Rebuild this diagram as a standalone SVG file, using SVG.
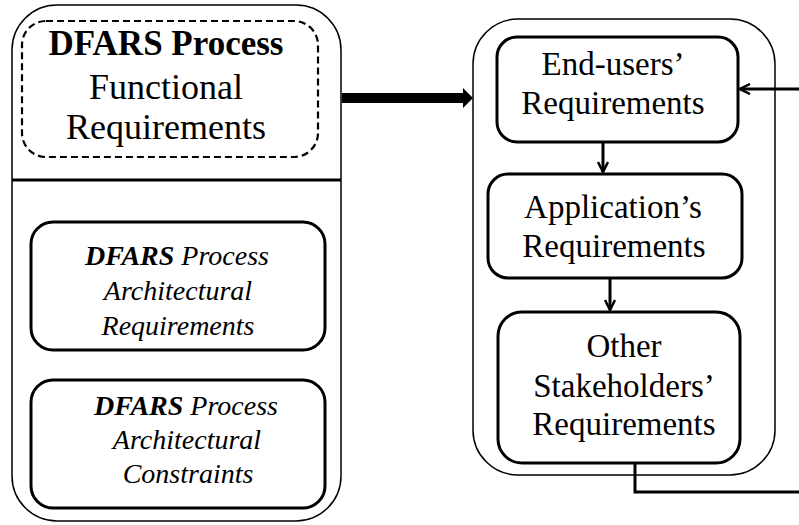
<svg xmlns="http://www.w3.org/2000/svg" width="799" height="525" viewBox="0 0 799 525">
  <style>
    .outer { fill: #fff; stroke: #000; stroke-width: 1.5; }
    .box { fill: #fff; stroke: #000; stroke-width: 3; }
    .dash { fill: none; stroke: #000; stroke-width: 2.2; stroke-dasharray: 7 4; }
    .wire { fill: none; stroke: #000; stroke-width: 3; }
    text { font-family: 'Liberation Serif', 'Times New Roman', serif; fill: #000; text-anchor: middle; }
    .big { font-size: 36px; }
    .head { font-size: 35px; font-weight: bold; }
    .mid { font-size: 33px; }
    .ital { font-size: 28px; font-style: italic; }
  </style>
  <defs>
    <marker id="open" viewBox="0 0 12 12" refX="11" refY="6" markerWidth="12" markerHeight="12" markerUnits="userSpaceOnUse" orient="auto">
      <path d="M1,1 L11,6 L1,11" fill="none" stroke="#000" stroke-width="2.5"/>
    </marker>
  </defs>
  <rect width="799" height="525" fill="#fff"/>

  <!-- left: DFARS process requirements -->
  <g id="dfars-process">
    <rect class="outer" x="12" y="5" width="329" height="516" rx="45" ry="45"/>
    <line x1="12" y1="180" x2="341" y2="180" stroke="#000" stroke-width="3"/>
  </g>
  <g id="functional-req">
    <rect class="dash" x="22" y="21" width="296" height="136" rx="24" ry="24"/>
    <text class="head" x="166" y="55">DFARS Process</text>
    <text class="big" x="166" y="99">Functional</text>
    <text class="big" x="166" y="139">Requirements</text>
  </g>
  <g id="arch-req">
    <rect class="box" x="31" y="222" width="294" height="128" rx="22" ry="22"/>
    <text class="ital" x="177" y="265"><tspan font-weight="bold">DFARS</tspan> Process</text>
    <text class="ital" x="178" y="300">Architectural</text>
    <text class="ital" x="178" y="335">Requirements</text>
  </g>
  <g id="arch-constraints">
    <rect class="box" x="31" y="380" width="294" height="128" rx="22" ry="22"/>
    <text class="ital" x="186" y="415"><tspan font-weight="bold">DFARS</tspan> Process</text>
    <text class="ital" x="187" y="449">Architectural</text>
    <text class="ital" x="188" y="483">Constraints</text>
  </g>

  <!-- right: stakeholder requirements -->
  <g id="stakeholders">
    <rect class="outer" x="473" y="19" width="302" height="456" rx="45" ry="45"/>
  </g>
  <g id="end-users">
    <rect class="box" x="497" y="37" width="241" height="105" rx="20" ry="20"/>
    <text class="mid" x="613" y="75">End-users’</text>
    <text class="mid" x="613" y="114">Requirements</text>
  </g>
  <g id="application">
    <rect class="box" x="488" y="174" width="254" height="104" rx="20" ry="20"/>
    <text class="mid" x="613" y="218">Application’s</text>
    <text class="mid" x="614" y="257">Requirements</text>
  </g>
  <g id="other-stakeholders">
    <rect class="box" x="498" y="312" width="242" height="151" rx="24" ry="24"/>
    <text class="mid" x="624" y="357">Other</text>
    <text class="mid" x="624" y="397">Stakeholders’</text>
    <text class="mid" x="624" y="435">Requirements</text>
  </g>

  <!-- connectors -->
  <g id="connectors">
    <path d="M342,93 L463,93 L463,88 L473,98 L463,108 L463,103 L342,103 Z" fill="#000"/>
    <line class="wire" x1="603" y1="142" x2="603" y2="172" marker-end="url(#open)"/>
    <line class="wire" x1="610" y1="278" x2="610" y2="310" marker-end="url(#open)"/>
    <path class="wire" d="M635,463 L635,492 L799,492"/>
    <line class="wire" x1="799" y1="89" x2="740" y2="89" marker-end="url(#open)"/>
  </g>
</svg>
